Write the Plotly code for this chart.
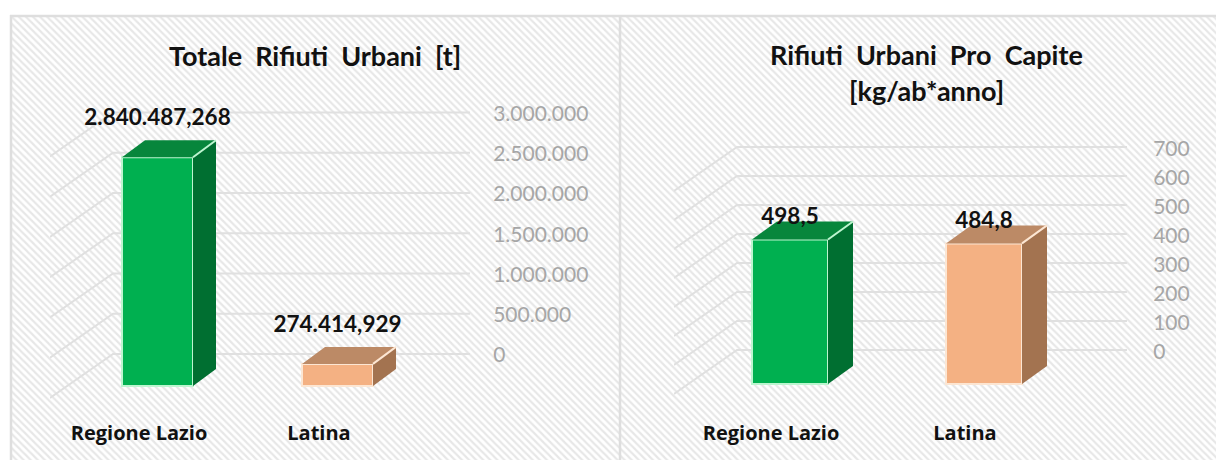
import plotly.graph_objects as go

W, H = 1216, 460
FONT = "Lato"

categories = ["Regione Lazio", "Latina"]
totale_t = [2840487.268, 274414.929]
procapite_kg = [498.5, 484.8]
ticks_totale = [0, 500000, 1000000, 1500000, 2000000, 2500000, 3000000]
ticks_procapite = [0, 100, 200, 300, 400, 500, 600, 700]

FRONT = ["#00B050", "#F4B183"]
TOP = ["#07863C", "#BC8A66"]
SIDE = ["#006F31", "#A37350"]
EDGE = ["#BDF5D0", "#FCE6D3"]
GRID = "#E0E0E0"
TICK = "#A6A6A6"
TEXT = "#111111"


def it_number(v, decimals=0):
    s = f"{v:,.{decimals}f}"
    return s.replace(",", "#").replace(".", ",").replace("#", ".")


fig = go.Figure()
layout = dict(
    width=W, height=H, autosize=False, margin=dict(l=0, r=0, t=0, b=0, pad=0),
    paper_bgcolor="white", plot_bgcolor="rgba(0,0,0,0)", showlegend=False,
    barmode="overlay", hovermode=False,
)

# hatched chart-area background
fig.add_trace(go.Bar(
    x=[0.5], y=[1], width=[1], xaxis="x", yaxis="y", hoverinfo="skip",
    marker=dict(color="white", line=dict(width=0),
                pattern=dict(shape="\\", size=5, solidity=0.45,
                             fgcolor="#D0D0D0", bgcolor="#FFFFFF")),
))
layout["xaxis"] = dict(domain=[10 / W, 1], range=[0, 1], visible=False, fixedrange=True)
layout["yaxis"] = dict(domain=[0, (H - 15) / H], range=[0, 1], visible=False, fixedrange=True)


def panel(n, values, ticks, p):
    """Two overlapping subplots: back wall (grid + value axis), then the bars."""
    k = p["k"]
    dom_x = [p["left"] / W, p["right"] / W]
    dom_y = [(H - p["bottom"]) / H, (H - p["top"]) / H]
    xr = [(p["left"] - p["c0"]) / p["sp"], (p["right"] - p["c0"]) / p["sp"]]
    yr = [(p["zero"] - p["bottom"]) / k, (p["zero"] - p["top"]) / k]

    gx, gy = f"x{n}", f"y{n}"
    bx, by = f"x{n + 1}", f"y{n + 1}"
    corner = (p["corner"] - p["c0"]) / p["sp"]
    right = xr[1]
    xs, ys = [], []
    for t in ticks:
        xs += [xr[0], corner, right, None]
        ys += [t - p["wall_dy"] / k, t, t, None]
    fig.add_trace(go.Scatter(x=xs, y=ys, mode="lines", xaxis=gx, yaxis=gy, hoverinfo="skip",
                             line=dict(color=GRID, width=2)))
    axis_common = dict(range=xr, domain=dom_x, fixedrange=True)
    layout[f"xaxis{n}"] = dict(axis_common, visible=False, anchor=gy)
    layout[f"yaxis{n}"] = dict(
        domain=dom_y, range=yr, side="right", anchor=gx, fixedrange=True,
        tickvals=ticks, ticktext=[it_number(t) for t in ticks],
        tickfont=dict(family=FONT, size=p["tick_size"], color=TICK),
        ticks="outside", ticklen=p["tick_gap"], tickcolor="rgba(0,0,0,0)",
        ticklabelshift=p["tick_shift"],
        showgrid=False, zeroline=False, showline=False,
    )

    pos = list(range(len(values)))
    bw = p["bw"] / p["sp"]
    dx = p["dx"] / p["sp"]
    dy = p["dy"] / k
    base = -p["base"] / k

    for i, v in zip(pos, values):
        l, r = i - bw / 2, i + bw / 2
        top = base + v
        fig.add_trace(go.Scatter(
            x=[l, r, r + dx, l + dx, l], y=[top, top, top + dy, top + dy, top],
            fill="toself", fillcolor=TOP[i], mode="lines", line=dict(width=0, color=TOP[i]),
            xaxis=bx, yaxis=by, hoverinfo="skip"))
        fig.add_trace(go.Scatter(
            x=[r, r + dx, r + dx, r, r], y=[top, top + dy, base + dy, base, top],
            fill="toself", fillcolor=SIDE[i], mode="lines", line=dict(width=0, color=SIDE[i]),
            xaxis=bx, yaxis=by, hoverinfo="skip"))
        fig.add_trace(go.Scatter(
            x=[r, r + dx], y=[top, top + dy], mode="lines",
            line=dict(width=2, color=EDGE[i]), xaxis=bx, yaxis=by, hoverinfo="skip"))

    fig.add_trace(go.Bar(
        x=pos, y=values, base=[base] * len(values), width=[bw] * len(values),
        xaxis=bx, yaxis=by, hoverinfo="skip",
        marker=dict(color=FRONT[:len(values)], line=dict(color=EDGE[:len(values)], width=2)),
    ))
    fig.add_trace(go.Scatter(
        x=pos, y=[base + v + p["label_gap"] / k for v in values], mode="text",
        text=[it_number(v, p["dec"]) for v in values], textposition="middle center",
        textfont=dict(family=FONT, size=p["label_size"], color=TEXT, weight="bold"),
        cliponaxis=False, xaxis=bx, yaxis=by, hoverinfo="skip"))

    layout[f"xaxis{n + 1}"] = dict(
        axis_common, anchor=by,
        tickvals=[i + p["cat_shift"] / p["sp"] for i in pos], ticktext=categories,
        tickfont=dict(family="Open Sans", size=p["cat_size"], color=TEXT, weight="bold"),
        ticks="outside", ticklen=p["cat_gap"], tickcolor="rgba(0,0,0,0)",
        tickangle=0, showgrid=False, zeroline=False, showline=False,
    )
    layout[f"yaxis{n + 1}"] = dict(domain=dom_y, range=yr, anchor=bx, fixedrange=True, visible=False)


panel(2, totale_t, ticks_totale, dict(
    k=241.6 / 3000000, zero=354, top=100, bottom=410, left=50, right=470, corner=113,
    c0=157.5, sp=180, bw=71, dx=23, dy=17, base=32, wall_dy=44,
    label_gap=37.5, dec=3, label_size=22.5, tick_size=21, tick_gap=18, tick_shift=1,
    cat_shift=-18.5, cat_gap=5, cat_size=20))
panel(4, procapite_kg, ticks_procapite, dict(
    k=203 / 700, zero=350, top=100, bottom=410, left=674, right=1127, corner=737,
    c0=790, sp=194, bw=76, dx=25, dy=18, base=34, wall_dy=44,
    label_gap=21.5, dec=1, label_size=22.5, tick_size=21, tick_gap=21, tick_shift=2,
    cat_shift=-19, cat_gap=5, cat_size=20))

titles = [
    ("Totale\u00a0 Rifiuti\u00a0 Urbani\u00a0 [t]", 315, 56),
    ("Rifiuti\u00a0 Urbani\u00a0 Pro\u00a0 Capite", 926, 55),
    ("[kg/ab*anno]", 926, 91),
]
layout["annotations"] = [
    dict(text=t, x=x / W, y=1 - y / H, xref="paper", yref="paper", showarrow=False,
         xanchor="center", yanchor="middle",
         font=dict(family=FONT, size=27, color=TEXT, weight="bold"))
    for t, x, y in titles
]

BORDER = "#DEDEDE"
layout["shapes"] = [
    dict(type="line", xref="paper", yref="paper", x0=x0 / W, x1=x1 / W, y0=1 - y0 / H, y1=1 - y1 / H,
         line=dict(color=BORDER, width=w))
    for x0, y0, x1, y1, w in [
        (10, 16, W, 16, 2.5), (11, 15, 11, H, 2.5), (620, 15, 620, H, 2.5),
    ]
]

fig.update_layout(**layout)
fig.write_html("out.html", config=dict(displayModeBar=False),
               post_script="document.body.style.margin='0';document.body.style.overflow='hidden';")
